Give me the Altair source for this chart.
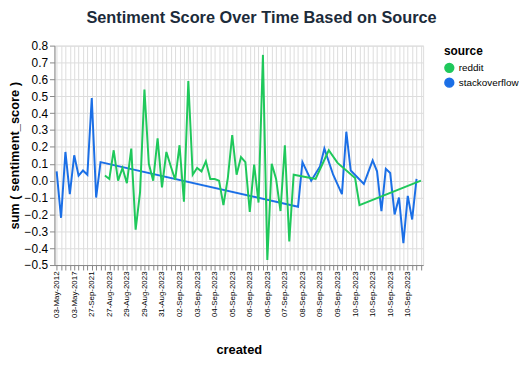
import altair as alt
import pandas as pd

# one timestamp per x category, in chronological order
created = [
    "03-May-2012 09:14", "15-Jan-2014 11:02", "22-Jun-2015 16:40", "10-Nov-2016 08:25",
    "03-May-2017 13:51", "18-Feb-2018 19:07", "07-Sep-2019 10:33", "12-Aug-2020 21:12",
    "27-Sep-2021 07:45", "05-Mar-2022 15:20", "19-Jan-2023 12:09", "26-Aug-2023 22:41",
    "27-Aug-2023 03:15", "27-Aug-2023 09:48", "28-Aug-2023 01:26", "28-Aug-2023 17:03",
    "29-Aug-2023 02:37", "29-Aug-2023 06:12", "29-Aug-2023 11:54", "29-Aug-2023 15:30",
    "29-Aug-2023 20:18", "30-Aug-2023 04:44", "30-Aug-2023 18:27", "31-Aug-2023 07:05",
    "31-Aug-2023 19:39", "01-Sep-2023 08:16", "01-Sep-2023 21:50", "02-Sep-2023 05:22",
    "02-Sep-2023 12:31", "02-Sep-2023 23:08", "03-Sep-2023 03:47", "03-Sep-2023 09:19",
    "03-Sep-2023 14:02", "03-Sep-2023 20:36", "04-Sep-2023 06:11", "04-Sep-2023 13:58",
    "04-Sep-2023 22:24", "05-Sep-2023 02:09", "05-Sep-2023 07:43", "05-Sep-2023 11:17",
    "05-Sep-2023 16:52", "05-Sep-2023 21:29", "06-Sep-2023 01:35", "06-Sep-2023 04:58",
    "06-Sep-2023 08:21", "06-Sep-2023 11:46", "06-Sep-2023 14:13", "06-Sep-2023 17:39",
    "06-Sep-2023 21:04", "07-Sep-2023 02:28", "07-Sep-2023 08:55", "07-Sep-2023 14:40",
    "07-Sep-2023 20:07", "08-Sep-2023 03:33", "08-Sep-2023 09:26", "08-Sep-2023 13:14",
    "08-Sep-2023 18:48", "09-Sep-2023 00:52", "09-Sep-2023 04:19", "09-Sep-2023 07:37",
    "09-Sep-2023 10:05", "09-Sep-2023 12:44", "09-Sep-2023 15:21", "09-Sep-2023 18:09",
    "09-Sep-2023 21:56", "10-Sep-2023 00:12", "10-Sep-2023 01:38", "10-Sep-2023 02:57",
    "10-Sep-2023 04:23", "10-Sep-2023 05:46", "10-Sep-2023 07:02", "10-Sep-2023 08:15",
    "10-Sep-2023 09:31", "10-Sep-2023 10:48", "10-Sep-2023 11:59", "10-Sep-2023 13:07",
    "10-Sep-2023 14:22", "10-Sep-2023 15:36", "10-Sep-2023 16:49", "10-Sep-2023 17:58",
    "10-Sep-2023 19:11", "10-Sep-2023 20:25", "10-Sep-2023 21:43", "10-Sep-2023 23:01",
]

N = None
# sentiment score per category for each source (None = no post at that time)
stackoverflow = [
    0.055, -0.22, 0.17, -0.08, 0.15, 0.03, 0.06, 0.035, 0.49, -0.10,
    0.11, N, N, N, N, N, N, N, N, N,
    N, N, N, N, N, N, N, N, N, N,
    N, N, N, N, N, N, N, N, N, N,
    N, N, N, N, N, N, N, N, N, N,
    N, N, N, N, N, -0.155, 0.11, N, 0.0, N,
    0.084, 0.19, N, 0.035, N, -0.08, 0.29, 0.06, N, N,
    -0.02, 0.05, 0.12, 0.055, -0.18, 0.07, 0.045, -0.20, -0.10, -0.37,
    -0.09, -0.23, 0.01, N,
]
reddit = [
    N, N, N, N, N, N, N, N, N, N,
    N, 0.03, 0.01, 0.18, 0.0, 0.075, -0.015, 0.19, -0.29, -0.07,
    0.54, 0.10, 0.0, 0.25, -0.04, 0.17, 0.085, 0.005, 0.21, -0.125,
    0.59, 0.035, 0.075, 0.055, 0.115, 0.01, 0.01, 0.0, -0.145, 0.015,
    0.27, 0.035, 0.14, 0.11, -0.185, 0.095, -0.13, 0.745, -0.47, 0.10,
    0.01, -0.18, 0.21, -0.36, 0.035, N, N, 0.02, N, 0.01,
    N, N, 0.18, N, 0.105, N, N, N, 0.015, -0.145,
    N, N, N, N, N, N, N, N, N, N,
    N, N, N, 0.0,
]

sources = ["reddit", "stackoverflow"]
colors = ["#1fc85b", "#1b6fe6"]

rows = []
for i, c in enumerate(created):
    if reddit[i] is not None:
        rows.append({"created": c, "source": "reddit", "sentiment_score": reddit[i]})
    if stackoverflow[i] is not None:
        rows.append({"created": c, "source": "stackoverflow", "sentiment_score": stackoverflow[i]})
df = pd.DataFrame(rows)

FONT = "Liberation Sans"

x_enc = alt.X(
    "created:O",
    sort=created,
    title="created",
    axis=alt.Axis(
        grid=True,
        labelAngle=-90,
        labelExpr="substring(datum.value, 0, 11)",
        labelFontSize=8,
        labelOverlap="parity",
        labelSeparation=2,
        labelPadding=1,
        titlePadding=26,
    ),
)
y_enc = alt.Y(
    "sum(sentiment_score):Q",
    title="sum ( sentiment_score )",
    scale=alt.Scale(domain=[-0.5, 0.8]),
    axis=alt.Axis(tickCount=13, labelFontSize=12, titlePadding=3),
)
color_scale = alt.Scale(domain=sources, range=colors)
legend = alt.Legend(
    title="source", symbolType="circle", symbolOpacity=1, symbolSize=80,
    offset=19, rowPadding=0,
)

base = alt.Chart(df)
dots = base.mark_circle(size=0).encode(
    x=x_enc, y=y_enc,
    color=alt.Color("source:N", scale=color_scale, legend=legend),
)
lines = base.mark_line(strokeWidth=2).encode(
    x=x_enc, y=y_enc,
    color=alt.Color("source:N", scale=color_scale, legend=legend),
)

chart = (
    alt.layer(dots, lines)
    .properties(
        width=373,
        height=222,
        padding={"left": 0, "top": 0, "right": 0, "bottom": 0},
        title=alt.Title(
            "Sentiment Score Over Time Based on Source",
            fontSize=16.5,
            font=FONT,
            color="#1c2b3a",
            frame="group",
            anchor="middle",
            offset=13.5,
            dx=23,
        ),
    )
    .configure_axis(labelFont=FONT, titleFont=FONT, titleFontSize=13, labelColor="#000", titleColor="#000")
    .configure_legend(labelFont=FONT, titleFont=FONT, titleFontSize=12, labelFontSize=10, offset=19)
)

chart.save("out.html", embed_options={"renderer": "svg", "actions": False})
